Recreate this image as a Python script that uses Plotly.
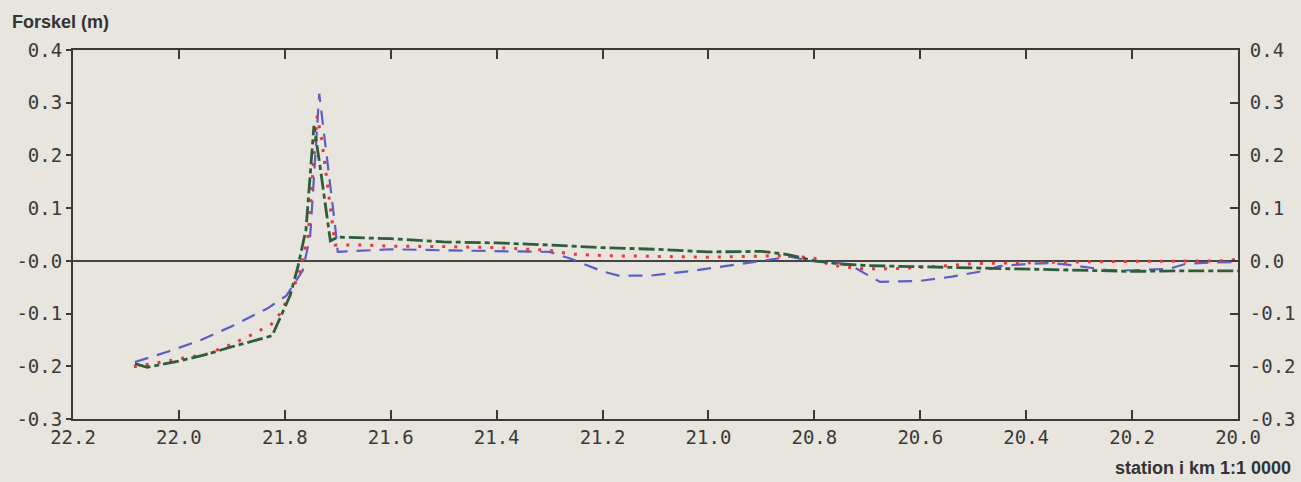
import plotly.graph_objects as go

# ---- data (station km, difference m) ----
green_x = [22.083, 22.06, 22.00, 21.95, 21.90, 21.85, 21.824, 21.79, 21.775, 21.76, 21.745,
           21.735, 21.725, 21.714, 21.70, 21.60, 21.50, 21.40, 21.30, 21.20, 21.10, 21.00,
           20.90, 20.85, 20.80, 20.75, 20.70, 20.60, 20.50, 20.40, 20.30, 20.20, 20.10, 20.00]
green_y = [-0.195, -0.202, -0.190, -0.178, -0.163, -0.150, -0.142, -0.066, -0.010, 0.060, 0.256,
           0.190, 0.120, 0.038, 0.045, 0.042, 0.036, 0.034, 0.030, 0.025, 0.022, 0.017,
           0.018, 0.012, 0.000, -0.006, -0.009, -0.011, -0.014, -0.015, -0.018, -0.020, -0.019, -0.019]

red_x = [22.085, 22.05, 22.00, 21.948, 21.907, 21.866, 21.825, 21.809, 21.781, 21.771, 21.756,
         21.739, 21.73, 21.715, 21.705, 21.65, 21.60, 21.50, 21.40, 21.30, 21.26, 21.20, 21.10,
         21.00, 20.90, 20.85, 20.80, 20.77, 20.71, 20.65, 20.60, 20.545, 20.50, 20.40, 20.30,
         20.20, 20.10, 20.03, 20.00]
red_y = [-0.201, -0.195, -0.187, -0.177, -0.161, -0.142, -0.120, -0.100, -0.044, -0.018, 0.048,
         0.275, 0.228, 0.112, 0.030, 0.030, 0.028, 0.027, 0.025, 0.020, 0.013, 0.010, 0.008,
         0.007, 0.009, 0.010, 0.005, -0.008, -0.015, -0.015, -0.012, -0.009, -0.005, -0.003, -0.002,
         -0.001, 0.000, 0.000, 0.003]

blue_x = [22.083, 22.023, 21.96, 21.898, 21.834, 21.797, 21.766, 21.752, 21.735, 21.715, 21.705,
          21.70, 21.65, 21.60, 21.50, 21.40, 21.30, 21.26, 21.20, 21.17, 21.11, 21.03, 20.94,
          20.87, 20.845, 20.81, 20.76, 20.727, 20.676, 20.60, 20.54, 20.48, 20.45, 20.40, 20.35,
          20.30, 20.25, 20.20, 20.13, 20.10, 20.05, 20.00]
blue_y = [-0.192, -0.173, -0.151, -0.123, -0.091, -0.066, -0.018, 0.048, 0.317, 0.156, 0.066,
          0.017, 0.020, 0.022, 0.020, 0.019, 0.017, 0.004, -0.020, -0.028, -0.028, -0.019, -0.006,
          0.005, 0.008, 0.000, -0.003, -0.011, -0.040, -0.038, -0.030, -0.019, -0.010, -0.006, -0.004,
          -0.010, -0.017, -0.018, -0.015, -0.006, -0.003, -0.002]

y_ticks = [0.4, 0.3, 0.2, 0.1, 0.0, -0.1, -0.2, -0.3]
y_left_text = ["0.4", "0.3", "0.2", "0.1", "-0.0", "-0.1", "-0.2", "-0.3"]
y_right_text = ["0.4", "0.3", "0.2", "0.1", "0.0", "-0.1", "-0.2", "-0.3"]
x_ticks = [22.2, 22.0, 21.8, 21.6, 21.4, 21.2, 21.0, 20.8, 20.6, 20.4, 20.2, 20.0]
x_text = ["22.2", "22.0", "21.8", "21.6", "21.4", "21.2", "21.0", "20.8", "20.6", "20.4", "20.2", "20.0"]

BG = "#e7e5de"
AX = "#3a3a3a"
TICKFONT = dict(family="DejaVu Sans Mono", size=19, color="#3a3a3a")

fig = go.Figure()
fig.add_trace(go.Scatter(x=blue_x, y=blue_y, mode="lines",
                         line=dict(color="#5b5fc4", width=2.2, dash="14px,9px"), showlegend=False))
fig.add_trace(go.Scatter(x=red_x, y=red_y, mode="lines",
                         line=dict(color="#e23a3a", width=3, dash="3px,9px"), showlegend=False))
fig.add_trace(go.Scatter(x=green_x, y=green_y, mode="lines",
                         line=dict(color="#2f5c3c", width=2.8, dash="16px,4px,5px,4px"), showlegend=False))
# invisible trace for right axis
fig.add_trace(go.Scatter(x=[22.2], y=[0.4], yaxis="y2", mode="markers",
                         marker=dict(opacity=0), showlegend=False, hoverinfo="skip"))

fig.update_layout(
    width=1301, height=482,
    margin=dict(l=73, r=63, t=50, b=63, autoexpand=False),
    paper_bgcolor=BG, plot_bgcolor=BG,
    xaxis=dict(range=[22.2, 20.0], tickvals=x_ticks, ticktext=x_text, ticks="inside",
               ticklen=9, tickwidth=2, tickcolor=AX, showline=True, linecolor=AX, linewidth=2,
               mirror="ticks", showgrid=False, zeroline=False, tickfont=TICKFONT, automargin=False),
    yaxis=dict(range=[-0.3, 0.4], tickvals=y_ticks, ticktext=y_left_text, ticks="outside",
               ticklen=5, tickwidth=2, tickcolor=AX, showline=True, linecolor=AX, linewidth=2,
               showgrid=False, zeroline=True, zerolinecolor="#444444", zerolinewidth=2,
               tickfont=TICKFONT, ticklabelstandoff=0, automargin=False),
    yaxis2=dict(range=[-0.3, 0.4], tickvals=y_ticks, ticktext=y_right_text, overlaying="y",
                side="right", ticks="inside", ticklen=8, tickwidth=2, tickcolor=AX,
                showline=True, linecolor=AX, linewidth=2, showgrid=False, zeroline=False,
                tickfont=TICKFONT, ticklabelstandoff=6, automargin=False),
    annotations=[
        dict(text="Forskel (m)", xref="paper", yref="paper", x=-73/1165, y=1 + 28/369,
             xanchor="left", yanchor="middle", showarrow=False,
             font=dict(family="Liberation Sans", size=18, color="#333333", weight=600), xshift=10),
        dict(text="station i km 1:1 0000", xref="paper", yref="paper", x=1 + 55/1165,
             y=-49/369, xanchor="right", yanchor="middle", showarrow=False,
             font=dict(family="Liberation Sans", size=18, color="#333333", weight=600)),
    ],
)

fig.write_html("out.html", config={"displayModeBar": False},
               post_script="document.body.style.margin='0';document.body.style.overflow='hidden';")
